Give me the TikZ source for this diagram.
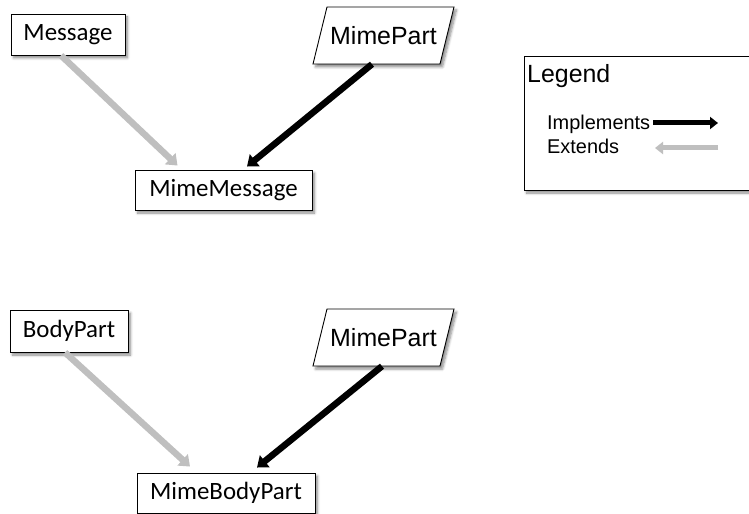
\documentclass[tikz,border=0pt]{standalone}
\usepackage{fontspec}
\setmainfont{Carlito}
\newfontfamily\arialf{Liberation Sans}
\usetikzlibrary{arrows.meta,shadows.blur}
\begin{document}
\begin{tikzpicture}[x=1bp,y=-1bp,
  shade box/.style={blur shadow={shadow xshift=2.5bp, shadow yshift=-3bp, shadow blur steps=6, shadow blur radius=2.5bp, shadow opacity=45}},
  box/.style={draw=black, line width=0.9bp, fill=white, inner sep=0pt,
    font=\fontsize{25}{30}\selectfont, shade box},
  ptext/.style={inner sep=0pt, minimum width=141bp, minimum height=57bp, font=\arialf\fontsize{25}{30}\selectfont},
  para/.style={draw=black, line width=0.9bp, fill=white, shade box},
  extends/.style={draw={rgb,255:red,191;green,191;blue,191}, line width=6.5bp,
    -{Triangle[length=10bp,width=15bp]}},
  implements/.style={draw=black, line width=6.5bp,
    -{Triangle[length=10bp,width=15bp]}},
  legimpl/.style={draw=black, line width=5bp, -{Triangle[length=8bp,width=12bp]}},
  legext/.style={draw={rgb,255:red,191;green,191;blue,191}, line width=5bp, -{Triangle[length=8bp,width=12bp]}},
  legtext/.style={inner sep=0pt, anchor=base west, font=\arialf\fontsize{20}{24}\selectfont}
]
\useasboundingbox (0,0) rectangle (749,514);
\clip (0,0) rectangle (749,514);

% ---------- top group ----------
\path[para] (327,7) -- (454,7) -- (440,64) -- (313,64) -- cycle;
\node[ptext] (mp1) at (383.5,35.5) {MimePart};
\node[box, minimum width=114bp, minimum height=41bp] (msg) at (68,34.5) {Message};
\node[box, minimum width=177bp, minimum height=40bp] (mm) at (223.5,190) {MimeMessage};
\draw[extends] ([xshift=-7bp]msg.south) -- ([xshift=-46bp,yshift=4bp]mm.north);
\draw[implements] ([xshift=-11.5bp]mp1.south) -- ([xshift=23.5bp,yshift=3bp]mm.north);

% ---------- bottom group ----------
\path[para] (327,309) -- (454,309) -- (440,366) -- (313,366) -- cycle;
\node[ptext] (mp2) at (383.5,337.5) {MimePart};
\node[box, minimum width=118bp, minimum height=42bp] (bp) at (69,331) {BodyPart};
\node[box, minimum width=178bp, minimum height=40bp] (mbp) at (226,493) {MimeBodyPart};
\draw[extends] ([xshift=-4bp]bp.south) -- ([xshift=-36bp,yshift=6bp]mbp.north);
\draw[implements] ([xshift=-1.5bp]mp2.south) -- ([xshift=31bp,yshift=5bp]mbp.north);

% ---------- legend ----------
\path[para] (524,56) rectangle (770,190);
\node[legtext, font=\arialf\fontsize{25}{30}\selectfont] (legt) at (527,83) {Legend};
\node[legtext] (legi) at (547,130) {Implements};
\node[legtext] (lege) at (547,154) {Extends};
\coordinate (ia) at (653,123);
\coordinate (ib) at (718,123);
\coordinate (ea) at (718,148);
\coordinate (eb) at (655,148);
\draw[legimpl] (ia) -- (ib);
\draw[legext] (ea) -- (eb);
\end{tikzpicture}
\end{document}
